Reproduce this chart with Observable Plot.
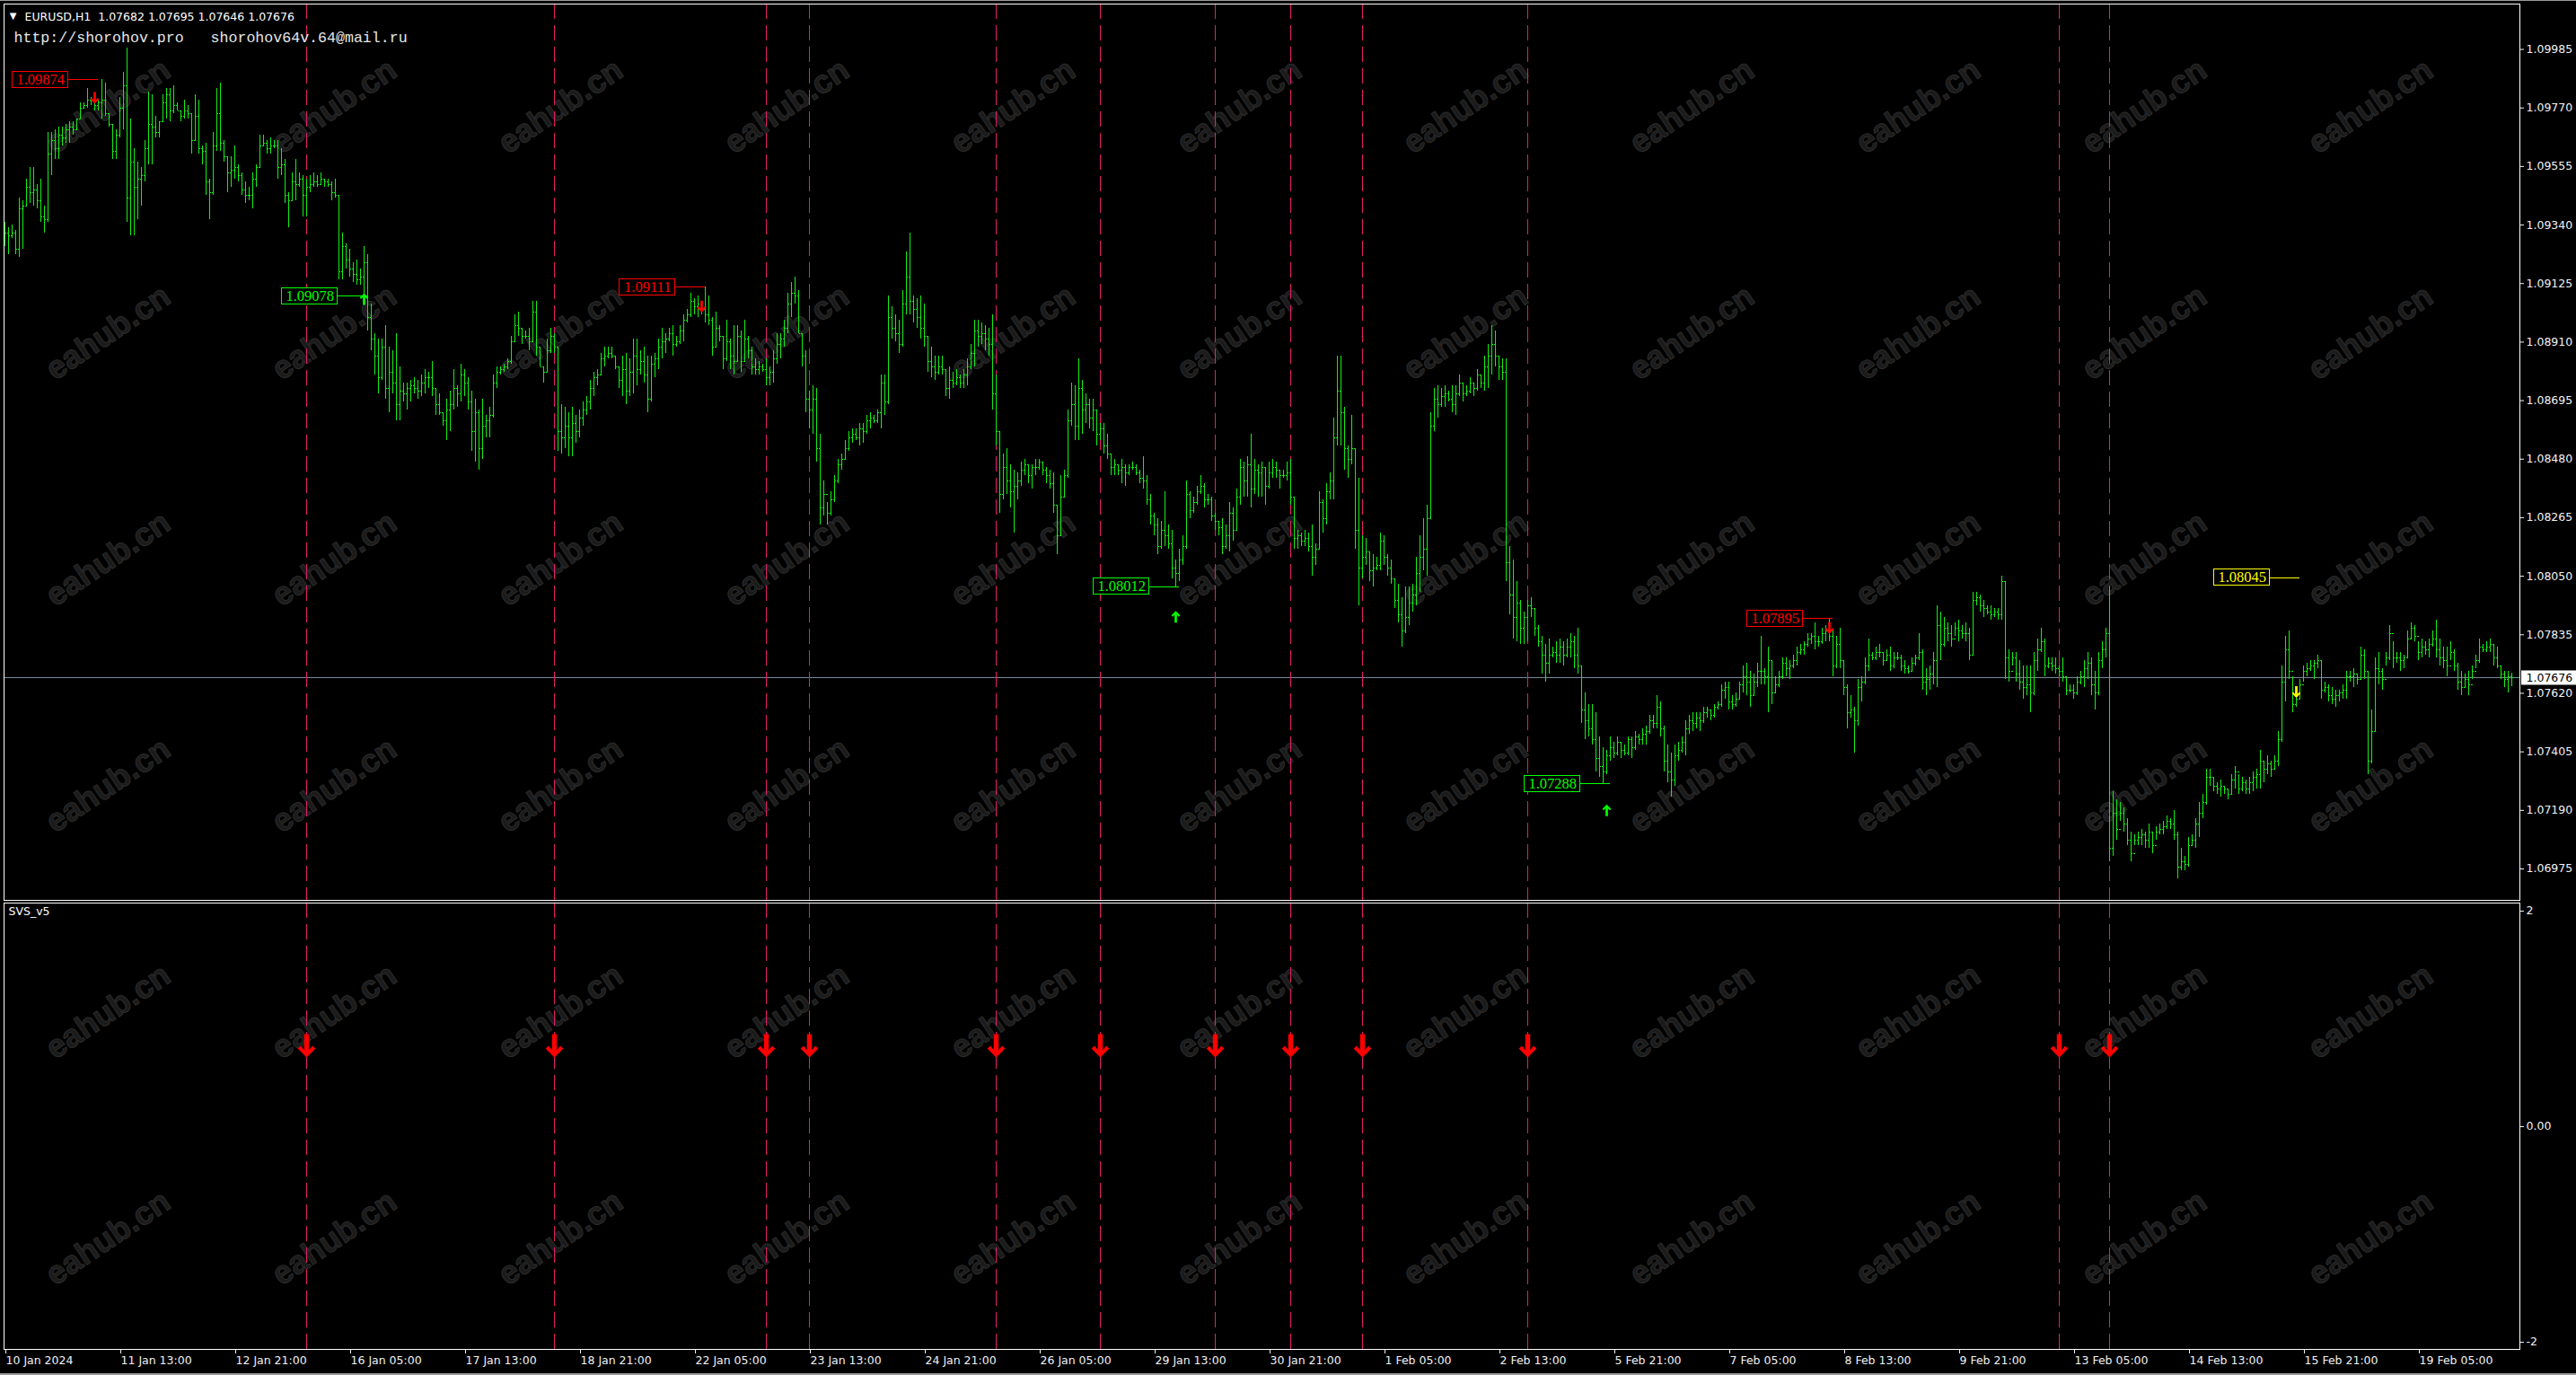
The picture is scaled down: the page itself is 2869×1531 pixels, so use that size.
<!DOCTYPE html>
<html><head><meta charset="utf-8">
<script src="https://cdn.jsdelivr.net/npm/d3@7"></script>
<script src="https://cdn.jsdelivr.net/npm/@observablehq/plot@0.6"></script>
<style>
html,body{margin:0;padding:0;background:#000;overflow:hidden;}
#wrap{position:relative;width:2869px;height:1531px;background:#000;overflow:hidden;}
#wm{position:absolute;left:0;top:0;width:2869px;height:1531px;z-index:0;}
.wmk{position:absolute;font:bold 36px "Liberation Sans",Arial,sans-serif;color:#1b1b1b;-webkit-text-stroke:1px #2c2c2c;transform:translate(-50%,-50%) rotate(-34deg);white-space:nowrap;}
#main{position:absolute;left:0;top:0;z-index:1;}
#ind{position:absolute;left:0;top:1003px;z-index:1;}
#topbar{position:absolute;left:0;top:0;width:2869px;height:1px;background:#9a9a9a;z-index:2;}
#botbar{position:absolute;left:0;top:1529px;width:2869px;height:2px;background:#9a9a9a;z-index:2;}
</style></head>
<body><div id="wrap"><div id="wm"></div><div id="main"></div><div id="ind"></div><div id="topbar"></div><div id="botbar"></div></div>
<script>
// ---- DATA (prices in pips above 1.0000, i.e. value = 1 + pips/10000) ----
const symbolName = "EURUSD,H1";
const firstOpenPips = 929;
const highPips = [
935,933,934,932,944,943,951,955,955,949,
951,941,968,968,969,970,970,971,972,972,
973,979,979,984,981,982,980,987.4,986,975,
971,969,981,990,999,973,962,957,955,965,
983,982,974,972,982,984,984,985,979,976,
980,978,975,982,980,963,964,951,968,984,
986,965,959,959,963,956,953,950,948,953,
956,967,967,965,966,965,965,962,958,946,
953,958,953,952,951,952,953,952,953,951,
951,950,951,945,931,927,925,920,921,918,
926,923,905,894,892,892,897,889,888,894,
882,876,876,877,878,877,879,881,880,884,
874,872,865,870,873,881,875,883,881,878,
873,870,866,870,864,867,879,882,882,883,
885,893,901,902,896,895,896,906,906,889,
882,892,896,894,889,868,867,865,867,864,
866,869,871,877,880,881,887,889,889,889,
886,882,886,887,885,892,892,888,889,886,
886,887,892,896,894,896,897,893,897,901,
903,909,907,908,906,911.1,908,900,902,897,
893,899,892,897,897,895,899,893,889,885,
884,883,885,882,888,894,894,899,909,913,
915,910,894,888,873,875,874,857,840,832,
836,842,848,850,855,858,859,859,861,861,
864,865,864,866,879,879,908,904,901,899,
910,924,931,908,907,908,905,893,889,886,
886,886,881,882,880,881,879,881,885,890,
899,899,898,897,896,901,879,858,850,852,
846,844,843,847,848,846,846,848,848,847,
845,844,843,831,842,844,866,876,875,885,
877,872,870,870,866,861,861,857,850,848,
846,848,846,846,847,846,844,849,842,835,
828,826,825,836,824,822,811,815,820,840,
836,834,838,842,839,835,834,828,825,826,
824,832,830,837,848,847,849,857,848,846,
847,845,847,848,847,844,844,847,848,834,
822,821,822,821,824,817,836,833,839,843,
863,886,886,867,853,864,852,841,820,819,
814,813,812,821,820,813,811,804,802,797,
801,801,802,812,820,826,831,865,874,875,
874,875,873,875,875,879,876,875,878,876,
881,879,886,890,897,895,886,885,885,816,
811,803,796,792,796,797,793,787,783,780,
782,779,781,782,781,782,784,783,786,772,
762,758,758,755,746,742,741,746,744,746,
744,743,746,746,748,747,749,750,754,754,
761,759,750,743,740,743,744,746,752,754,
755,755,755,757,757,756,758,759,765,766,
766,761,762,766,772,773,770,769,773,783,
771,779,774,768,770,775,775,774,776,779,
780,781,784,784,788,783,786,787,789.5,785,
783,786,774,765,761,757,767,768,775,782,
777,779,780,777,778,779,777,777,776,774,
772,775,776,784,778,771,772,777,794,792,
790,788,787,788,789,787,788,786,799,799,
798,796,794,794,793,793,805,803,778,777,
777,774,772,772,772,777,782,786,782,775,
775,775,772,775,768,765,765,768,770,774,
777,775,770,777,781,786,801,726,723,722,
720,716,711,710,711,712,711,714,711,713,
714,715,717,716,719,711,705,702,709,710,
716,722,725,734,734,731,729,730,728,727,
732,735,732,731,730,731,733,734,741,737,
739,737,739,748,772,783,785,768,764,767,
772,773,774,774,776,774,766,765,764,763,
763,765,770,770,771,769,779,778,770,756,
775,777,771,777,787,781,777,777,776,785,
788,787,781,782,781,782,785,789,782,779,
779,781,778,773,770,769,770,772,776,782,
780,781,782,780,779,772,770,770,769.5];
const lowPips = [
926,923,929,923,922,925,941,942,941,940,
935,931,935,952,958,958,963,964,964,967,
969,973,977,977,978,976,976,973,974,970,
958,958,966,969,935,930,930,936,941,950,
956,956,966,966,972,973,972,975,976,972,
973,973,960,965,960,956,945,936,945,961,
961,957,946,948,951,950,945,942,943,940,
948,955,963,960,960,962,951,952,942,933,
943,943,948,937,937,946,948,948,949,948,
948,943,944,914,914,918,915,913,912,912,
907.8,895,888,879,872,877,870,865,872,862,
862,869,866,869,872,870,871,872,874,871,
864,864,860,855,858,866,867,869,871,866,
851,847,844,848,856,856,863,874,879,880,
881,883,891,893,890,892,888,891,886,882,
876,880,887,887,851,850,852,849,849,854,
856,860,864,866,871,875,879,882,885,885,
881,874,871,868,871,872,875,879,876,865,
869,878,881,885,887,891,886,889,890,891,
898,900,901,900,901,898,897,886,889,891,
881,884,881,879,884,880,884,885,879,879,
879,880,875,875,876,883,885,889,894,900,
905,894,882,865,859,857,847,824,827,824,
827,832,839,844,848,851,854,855,853,854,
857,859,861,861,859,864,868,892,891,887,
889,901,901,898,896,892,889,880,878,877,
879,879,871,870,874,875,874,874,875,881,
882,889,890,888,886,866,853,828,833,835,
830,821,833,838,842,839,837,842,844,842,
839,837,828,813,820,834,841,860,855,855,
857,861,859,858,853,855,850,848,842,842,
842,839,838,842,844,842,839,837,831,824,
820,813,815,816,815,804,801.2,803,809,815,
826,828,831,835,830,831,825,822,820,813,
815,814,818,822,831,834,834,830,835,834,
834,831,837,841,841,837,841,840,831,815,
815,816,816,814,805,809,815,821,824,833,
833,853,853,844,841,846,815,794,804,809,
803,801,807,807,809,805,802,793,788,779,
784,787,792,794,799,807,805,826,858,863,
867,867,869,865,864,871,869,871,872,871,
873,874,873,874,879,882,877,877,803,791,
782,781,780,780,781,790,783,779,769,766,
769,775,773,773,772,775,775,771,769,751,
745,746,743,733,731,728.8,732,737,738,739,
738,739,739,738,741,743,743,743,747,749,
749,746,733,729,724,728,737,740,739,747,
748,749,748,751,753,752,753,756,757,760,
756,756,757,760,762,761,757,761,764,765,
765,755,758,762,764,767,768,767,771,772,
776,776,779,780,778,779,780,781,781,768,
771,771,761,749,753,740,750,759,765,770,
774,774,775,772,774,770,771,774,770,769,
769,770,772,774,763,761,763,765,764,774,
779,781,779,783,781,782,781,774,776,794,
792,790,791,789,790,789,789,767,766,772,
766,763,760,761,755,761,770,777,768,771,
770,769,768,766,761,762,760,761,765,764,
767,761,756,761,771,775,700,702,708,715,
711,706,700,706,706,706,705,705,703,708,
710,710,712,712,708,694,697,697,698,706,
705,709,716,721,728,726,725,724,725,723,
725,727,725,726,725,725,726,727,727,729,
732,731,734,735,744,759,767,755,757,760,
766,768,770,767,771,760,762,759,758,757,
759,760,760,766,764,765,767,767,732,736,
748,765,763,772,774,771,773,770,771,775,
782,781,774,775,776,775,779,775,772,771,
768,774,770,763,761,764,761,767,771,773,
777,777,777,772,771,767,764,762,764.6];
const closePips = [
931,930,931,925,940,941,948,946,947,943,
937,936,960,965,962,967,966,969,970,969,
973,977,978,980,980,978,979,980,975,971,
961,967,977,985,944,957,948,951,952,962,
971,970,968,972,979,982,976,978,976,974,
976,975,965,974,962,961,950,946,963,975,
964,959,953,954,955,952,947,945,945,951,
955,963,964,962,963,963,955,956,945,943,
950,949,951,945,948,949,950,949,951,950,
949,946,945,917,926,921,918,916,914,915,
920,900,892,886,878,889,874,880,876,868,
873,872,874,875,874,873,876,878,878,874,
868,865,862,866,868,874,872,879,876,869,
858,865,852,860,862,864,876,880,881,882,
884,891,897,896,893,893,891,902,889,882,
880,888,893,889,858,856,860,856,861,858,
863,866,869,874,878,879,885,886,887,886,
882,877,881,873,880,886,881,884,879,870,
883,885,889,891,892,894,890,891,895,899,
901,906,904,905,903,901,899,889,896,893,
885,891,886,884,893,884,892,888,882,881,
882,881,878,880,885,890,892,896,905,909,
908,894,886,870,866,870,852,830,835,828,
833,840,846,848,852,856,857,856,859,858,
862,863,862,865,876,869,900,896,894,890,
905,915,906,903,900,896,893,884,882,880,
882,881,874,877,876,878,876,879,882,887,
895,893,894,892,890,872,858,835,845,840,
836,838,840,844,846,842,845,845,847,844,
842,839,831,820,834,842,862,868,860,874,
866,868,863,866,857,859,853,850,845,846,
844,845,843,845,845,843,841,840,833,827,
824,816,822,820,817,808,806,811,816,835,
829,832,836,838,833,833,827,825,823,816,
820,828,822,834,845,840,846,837,844,843,
845,838,843,845,844,842,842,843,834,819,
820,818,819,816,812,815,832,826,836,840,
856,873,865,852,848,852,822,808,812,814,
807,808,809,818,812,808,804,796,791,785,
790,795,798,806,812,815,826,860,870,868,
871,872,870,868,872,876,872,873,876,874,
879,876,882,886,890,886,882,880,810,798,
790,795,786,790,794,793,786,781,776,773,
776,777,776,779,776,779,781,776,772,756,
752,749,745,738,735,733,739,742,740,744,
741,740,745,742,746,745,747,748,752,751,
757,749,737,733,730,739,741,744,749,752,
751,753,752,755,756,754,757,758,763,764,
759,758,760,765,768,766,761,766,770,770,
768,774,762,765,768,773,771,772,774,777,
778,780,782,783,781,781,784,785,783,772,
780,774,764,755,756,752,764,766,772,776,
775,777,777,774,776,772,775,775,772,771,
770,773,775,777,766,767,769,774,787,780,
786,784,782,786,785,784,784,776,796,797,
794,793,792,791,792,791,803,775,770,775,
769,766,764,765,762,774,778,781,772,773,
772,771,770,768,763,763,762,766,768,771,
773,765,762,774,778,784,705,718,712,718,
714,708,703,708,709,710,708,711,706,711,
712,713,715,714,710,698,700,699,706,708,
714,718,722,731,731,728,727,728,727,725,
730,733,727,729,727,729,731,732,737,734,
736,734,737,745,766,778,770,758,760,765,
770,771,772,773,774,763,764,761,760,761,
762,763,768,768,769,767,776,770,737,748,
771,770,767,775,784,775,775,774,775,782,
786,783,777,779,778,780,782,778,775,774,
772,777,772,766,764,767,765,770,774,779,
778,779,780,775,772,769,767,768.2,767.6];

// right price axis ticks
const priceTicks = [1.09985,1.09770,1.09555,1.09340,1.09125,1.08910,1.08695,1.08480,1.08265,1.08050,1.07835,1.07620,1.07405,1.07190,1.06975];
// time axis: bar index of each label and its text
const timeTickBars = [0,32,64,96,128,160,192,224,256,288,320,352,384,416,448,480,512,544,576,608,640,672];
const timeLabels = ["10 Jan 2024","11 Jan 13:00","12 Jan 21:00","16 Jan 05:00","17 Jan 13:00","18 Jan 21:00","22 Jan 05:00","23 Jan 13:00","24 Jan 21:00","26 Jan 05:00","29 Jan 13:00","30 Jan 21:00","1 Feb 05:00","2 Feb 13:00","5 Feb 21:00","7 Feb 05:00","8 Feb 13:00","9 Feb 21:00","13 Feb 05:00","14 Feb 13:00","15 Feb 21:00","19 Feb 05:00"];
// signal levels on the price chart
const signalBar = [25,100,194,326,446,508,638];
const signalPrice = [1.09874,1.09078,1.09111,1.08012,1.07288,1.07895,1.08045];
const signalArrowPrice = [1.09807,1.09068,1.09041,1.07901,1.07190,1.07860,1.07625];
const signalSide = ["sell","buy","sell","buy","buy","sell","alert"];
// SVS_v5 indicator signals (vertical lines + arrows)
const svsBars = [84,153,212,224,276,305,337,358,378,424,572,586];
const svsValues = [0.75,0.75,0.75,0.75,0.75,0.75,0.75,0.75,0.75,0.75,0.75,0.75];
const svsTicks = [2,0,-2];

// ---- build tables ----
const P = v => 1 + v / 10000;
const bars = highPips.map((h, i) => ({
  i, high: P(h), low: P(lowPips[i]), close: P(closePips[i]),
  open: P(i ? closePips[i - 1] : firstOpenPips)
}));
const last = bars[bars.length - 1];
const current = last.close;
const sideColor = {sell: "#ff0000", buy: "#00ff00", alert: "#ffff00"};
const signals = signalBar.map((b, k) => ({bar: b, price: signalPrice[k], arrow: signalArrowPrice[k], side: signalSide[k], color: sideColor[signalSide[k]]}));
const svs = svsBars.map((b, k) => ({bar: b, value: svsValues[k]}));

// ---- styling ----
const W = 2869, ML = 4, MR = 63;
const xDomain = [-0.25, 700.25];
const barColor = "#12f012";
const vlineColor = "#e61e6e";
const baseStyle = {background: "transparent", color: "#f2f2f2", fontFamily: "'DejaVu Sans', sans-serif", fontSize: "12.5px", maxWidth: "none", overflow: "visible"};

function arrowSymbol(dir) {
  const pts = [[0,1],[-0.76,0.24],[-0.5,0.0],[-0.21,0.36],[-0.21,-1],[0.21,-1],[0.21,0.36],[0.5,0.0],[0.76,0.24]];
  return {draw(ctx, size) {
    const s = Math.sqrt(size / Math.PI);
    pts.forEach(([x, y], k) => k ? ctx.lineTo(x * s, dir * y * s) : ctx.moveTo(x * s, dir * y * s));
    ctx.closePath();
  }};
}
const arrowDown = arrowSymbol(1), arrowUp = arrowSymbol(-1);

const pxPrice = 1 / 30300; // price per pixel on main scale
const boxW = 15.5, boxGap = 7.3, boxH = 9 * pxPrice;

const main = Plot.plot({
  width: W, height: 1003, marginLeft: ML, marginRight: MR, marginTop: 4, marginBottom: 1,
  style: baseStyle,
  x: {domain: xDomain, axis: null},
  y: {domain: [1.068595, 1.101517], axis: null},
  marks: [
    Plot.ruleY([current], {stroke: "#778899", shapeRendering: "crispEdges"}),
    Plot.ruleX(svsBars, {stroke: vlineColor, strokeDasharray: "17,7", shapeRendering: "crispEdges"}),
    Plot.ruleX(bars, {x: "i", y1: "low", y2: "high", stroke: barColor, shapeRendering: "crispEdges"}),
    Plot.link(bars, {x1: d => d.i - 0.4, x2: "i", y1: "open", y2: "open", stroke: barColor, shapeRendering: "crispEdges"}),
    Plot.link(bars, {x1: "i", x2: d => d.i + 0.4, y1: "close", y2: "close", stroke: barColor, shapeRendering: "crispEdges"}),
    Plot.link(signals, {x1: d => d.bar - boxGap, x2: d => d.bar + 0.9, y1: "price", y2: "price", stroke: "color", shapeRendering: "crispEdges"}),
    Plot.rect(signals, {x1: d => d.bar - boxGap - boxW, x2: d => d.bar - boxGap, y1: d => d.price - boxH, y2: d => d.price + boxH, fill: "#000", stroke: "color", shapeRendering: "crispEdges"}),
    Plot.text(signals, {x: d => d.bar - boxGap - boxW / 2, y: "price", text: d => d.price.toFixed(5), fill: "color", fontFamily: "'Liberation Serif', serif", fontSize: 16.5}),
    Plot.dot(signals.filter(d => d.side === "buy"), {x: "bar", y: "arrow", symbol: arrowUp, r: 6.5, fill: "color", stroke: "none"}),
    Plot.dot(signals.filter(d => d.side !== "buy"), {x: "bar", y: "arrow", symbol: arrowDown, r: 6.5, fill: "color", stroke: "none"}),
    Plot.axisY(priceTicks, {anchor: "right", label: null, tickSize: 4, tickPadding: 3, tickFormat: d => d.toFixed(5)}),
    Plot.rect([current], {x1: xDomain[1] + 0.5, x2: xDomain[1] + 16.5, y1: d => d - 8 * pxPrice, y2: d => d + 8 * pxPrice, fill: "#ffffff"}),
    Plot.text([current], {x: xDomain[1] + 1.75, y: d => d, text: d => d.toFixed(5), textAnchor: "start", fill: "#000"}),
    Plot.text(["▼"], {frameAnchor: "top-left", dx: 10, dy: 13, fontSize: 10, lineAnchor: "middle", textAnchor: "middle", fill: "#fff"}),
    Plot.text([`${symbolName}  ${last.open.toFixed(5)} ${last.high.toFixed(5)} ${last.low.toFixed(5)} ${last.close.toFixed(5)}`], {frameAnchor: "top-left", dx: 23, dy: 14, textAnchor: "start", lineAnchor: "middle", fill: "#fff"}),
    Plot.text(["http://shorohov.pro   shorohov64v.64@mail.ru"], {frameAnchor: "top-left", dx: 11, dy: 37, textAnchor: "start", lineAnchor: "middle", fontFamily: "'Liberation Mono', monospace", fontSize: 16.6, fill: "#e6e6e6"}),
    Plot.frame({stroke: "#ffffff", shapeRendering: "crispEdges"})
  ]
});
document.getElementById("main").appendChild(main);

const ind = Plot.plot({
  width: W, height: 528, marginLeft: ML, marginRight: MR, marginTop: 2, marginBottom: 29,
  style: baseStyle,
  x: {domain: xDomain, axis: null},
  y: {domain: [-2.0667, 2.075], axis: null},
  marks: [
    Plot.ruleX(svsBars, {stroke: vlineColor, strokeDasharray: "17,7", shapeRendering: "crispEdges"}),
    Plot.dot(svs, {x: "bar", y: "value", symbol: arrowDown, r: 13, fill: "#ff0000", stroke: "none"}),
    Plot.axisY(svsTicks, {anchor: "right", label: null, tickSize: 4, tickPadding: 3, tickFormat: d => d === 0 ? "0.00" : String(d)}),
    Plot.axisX(timeTickBars, {anchor: "bottom", label: null, tickSize: 5, tickPadding: 3, textAnchor: "start", dx: 1, tickFormat: d => timeLabels[timeTickBars.indexOf(d)]}),
    Plot.text(["SVS_v5"], {frameAnchor: "top-left", dx: 5, dy: 9, textAnchor: "start", lineAnchor: "middle", fill: "#fff"}),
    Plot.frame({stroke: "#ffffff", shapeRendering: "crispEdges"})
  ]
});
document.getElementById("ind").appendChild(ind);

// background watermark (decoration)
const wm = document.getElementById("wm");
for (let m = 0; m < 6; m++) for (let k = 0; k < 11; k++) {
  const s = document.createElement("span");
  s.className = "wmk"; s.textContent = "eahub.cn";
  s.style.left = (120 + 252 * k) + "px"; s.style.top = (118 + 252 * m) + "px";
  wm.appendChild(s);
}
</script>
</body></html>
